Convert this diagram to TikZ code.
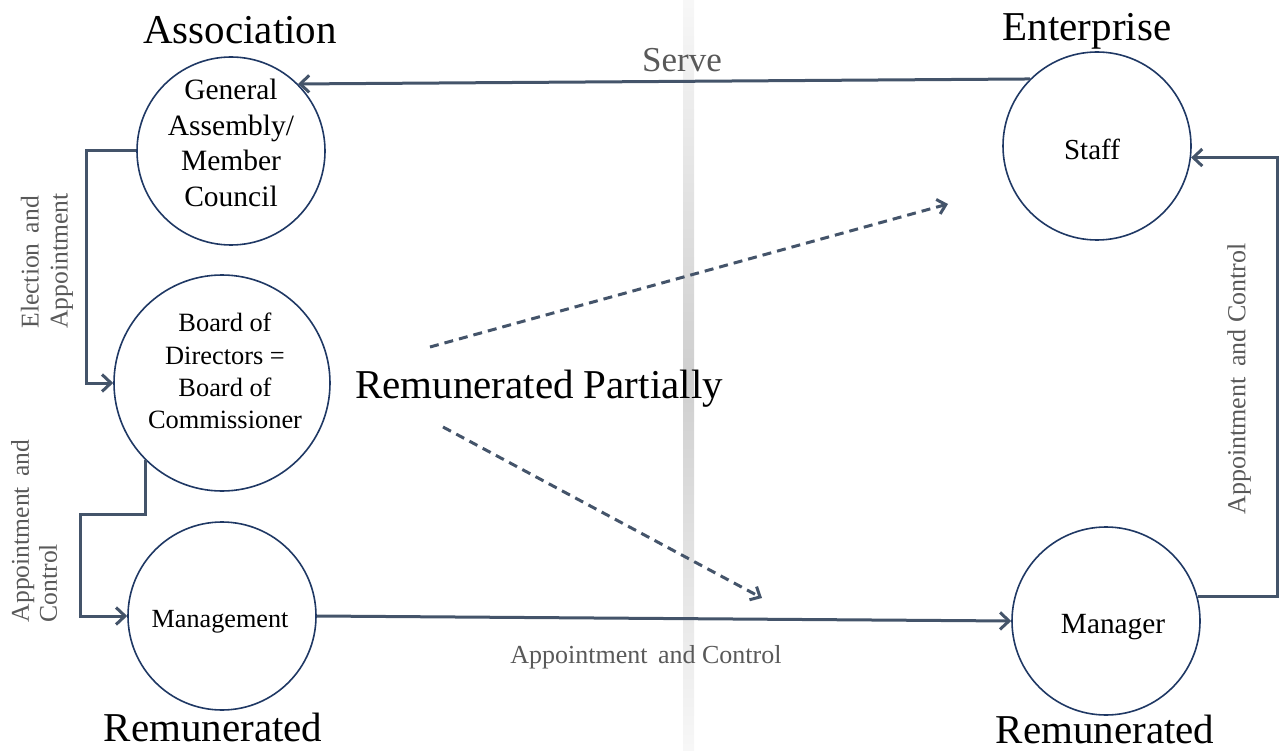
\documentclass[tikz,border=0pt]{standalone}
\usepackage{fontspec}
\setmainfont{Liberation Serif}
\usetikzlibrary{arrows.meta}
\definecolor{linec}{HTML}{44546A}
\definecolor{circc}{HTML}{1F3864}
\definecolor{labc}{HTML}{595959}
\begin{document}
\begin{tikzpicture}[x=1pt,y=-1pt,
  circ/.style={circle,draw=circc,line width=1.6pt,inner sep=0pt},
  intext/.style={align=center,inner sep=0pt,text=black},
  big/.style={inner sep=0pt,font=\fontsize{41}{49}\selectfont,text=black},
  lab/.style={inner sep=0pt,text=labc,font=\fontsize{26}{29}\selectfont},
  conn/.style={draw=linec,line width=3pt,-{Straight Barb[length=9pt,width=17pt]}},
  dconn/.style={draw=linec,line width=3pt,dash pattern=on 9pt off 6pt,-{Straight Barb[length=8pt,width=15pt]}}]
\useasboundingbox (0,0) rectangle (1279,751);
% faint vertical band
\shade[top color=gray!6,bottom color=gray!6,middle color=gray!38] (683,0) rectangle (694,751);
% circles
\node[circ,minimum size=188pt] (ga) at (231,151) {};
\node[circ,minimum size=216pt] (board) at (222,383) {};
\node[circ,minimum size=188pt] (mgmt) at (222,616) {};
\node[circ,minimum size=188pt] (staff) at (1097,146) {};
\node[circ,minimum size=188pt] (manager) at (1106,621) {};
% circle texts
\node[intext,font=\fontsize{29.5}{35.5}\selectfont] (gat) at (231,143) {General\\Assembly/\\Member\\Council};
\node[intext,font=\fontsize{26.4}{32.3}\selectfont] (boardt) at (225,371) {Board of\\Directors =\\Board of\\Commissioner};
\node[intext,font=\fontsize{26.2}{30}\selectfont] (mgmtt) at (220,622) {Management};
\node[intext,font=\fontsize{29}{34}\selectfont] (stafft) at (1092,149) {Staff};
\node[intext,font=\fontsize{29.3}{34}\selectfont] (managert) at (1113,627) {Manager};
% titles
\node[big] (assoc) at (240,30) {Association};
\node[big] (enter) at (1087,31) {Enterprise};
\node[big] (rem1) at (213,727) {Remunerated};
\node[big] (rem2) at (1105,729) {Remunerated};
\node[big] (rp) at (539,389) {Remunerated Partially};
% labels
\node[lab,font=\fontsize{35}{40}\selectfont] (serve) at (682,60) {Serve};
\node[lab] (ac1) at (646,657) {Appointment\hspace{0.15em} and Control};
\node[lab,rotate=90,align=left,font=\fontsize{25.6}{29}\selectfont] (ea) at (47,261) {Election\hspace{0.15em} and\\Appointment};
\node[lab,rotate=90,align=left,font=\fontsize{25.6}{28}\selectfont] (ac2) at (34,531) {Appointment\hspace{0.15em} and\\Control};
\node[lab,rotate=90] (ac3) at (1239,379) {Appointment\hspace{0.15em} and Control};
% helper coordinates
\coordinate (k1) at (80,514);
\coordinate (k2) at (1277,0);
\coordinate (d1s) at (430,347);
\coordinate (d1e) at (948,204);
\coordinate (d2s) at (443,427);
\coordinate (d2e) at (762,598);
% connectors
\draw[conn] (staff.135) -- (ga.45);
\draw[conn] (ga.west) -- ++(-50,0) |- (board.west);
\draw[conn] (board.225) |- (k1) |- (mgmt.west);
\draw[conn] (mgmt.east) -- (manager.west);
\draw[conn] (manager.15) -- (manager.15 -| k2) |- (staff.-7);
\draw[dconn] (d1s) -- (d1e);
\draw[dconn] (d2s) -- (d2e);
\end{tikzpicture}
\end{document}
